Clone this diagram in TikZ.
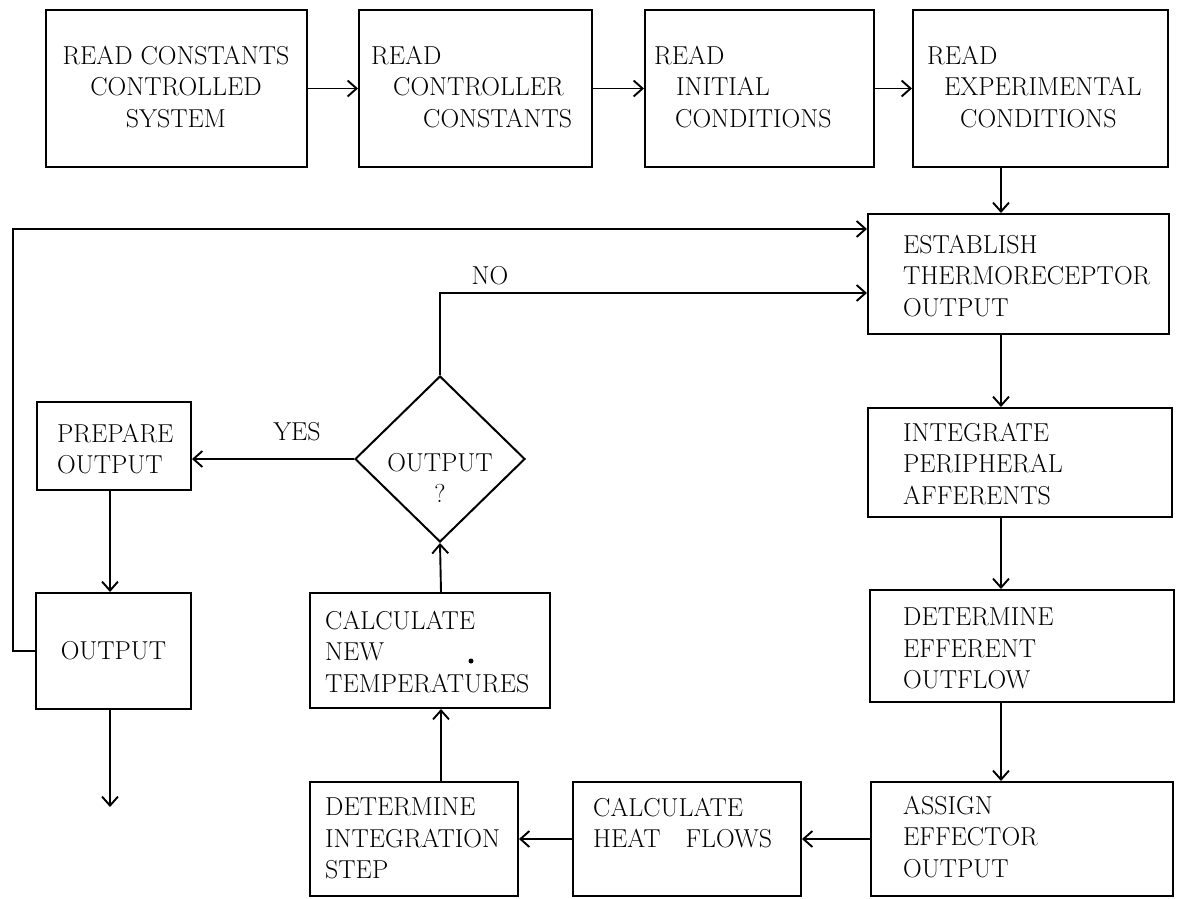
\documentclass[tikz,border=0pt]{standalone}
\usetikzlibrary{arrows.meta,shapes.geometric}
\begin{document}
\begin{tikzpicture}[x=1bp,y=-1bp,
  box/.style={draw, line width=2bp, rectangle, inner sep=0pt},
  txt/.style={font=\fontsize{26}{31.5}\selectfont, inner sep=0pt, align=left, anchor=north west},
  ctxt/.style={font=\fontsize{26}{31.5}\selectfont, inner sep=0pt, align=center, anchor=north},
  lbl/.style={font=\fontsize{26}{31.5}\selectfont, inner sep=0pt},
  arr/.style={line width=1.9bp, -{Straight Barb[length=9bp,width=16bp,line width=1.9bp]}},
  ln/.style={line width=1.9bp}]
\useasboundingbox (0,0) rectangle (1178,899);

% boxes
\node[box, minimum width=261bp, minimum height=157bp] (b1) at (176.5,88.5) {};
\node[box, minimum width=233bp, minimum height=157bp] (b2) at (475.5,88.5) {};
\node[box, minimum width=229bp, minimum height=157bp] (b3) at (759.5,88.5) {};
\node[box, minimum width=255bp, minimum height=157bp] (b4) at (1040.5,88.5) {};
\node[box, minimum width=301bp, minimum height=120bp] (est) at (1018.5,274) {};
\node[box, minimum width=304bp, minimum height=109bp] (integ) at (1020,462.5) {};
\node[box, minimum width=304bp, minimum height=112bp] (eff) at (1022,646) {};
\node[box, minimum width=302bp, minimum height=114bp] (assign) at (1022,839) {};
\node[box, minimum width=228bp, minimum height=114bp] (heat) at (687,839) {};
\node[box, minimum width=208bp, minimum height=114bp] (stp) at (414,839) {};
\node[box, minimum width=240bp, minimum height=115bp] (newt) at (430,650.5) {};
\node[box, minimum width=155bp, minimum height=116bp, font=\fontsize{26}{31.5}\selectfont] (out) at (113.5,651) {OUTPUT};
\node[box, minimum width=154bp, minimum height=88bp] (prep) at (114,446) {};
\node[draw, line width=2bp, diamond, inner sep=0pt, minimum width=170bp, minimum height=166bp] (dia) at (440,459) {};

% texts
\node[ctxt] (t1) at (176,46) {READ CONSTANTS\\CONTROLLED\\SYSTEM};
\node[txt] (t2) at (371,46) {READ\\\hspace*{22bp}CONTROLLER\\\hspace*{52bp}CONSTANTS};
\node[txt] (t3) at (654,46) {READ\\\hspace*{22bp}INITIAL\\\hspace*{21bp}CONDITIONS};
\node[txt] (t4) at (927,46) {READ\\\hspace*{17bp}EXPERIMENTAL\\\hspace*{33bp}CONDITIONS};
\node[txt] (test) at (903,235) {ESTABLISH\\THERMORECEPTOR\\OUTPUT};
\node[txt] (tinteg) at (903,423) {INTEGRATE\\PERIPHERAL\\AFFERENTS};
\node[txt] (teff) at (903,608) {DETERMINE\\EFFERENT\\OUTFLOW};
\node[txt] (tassign) at (903,796) {ASSIGN\\EFFECTOR\\OUTPUT};
\node[txt] (theat) at (593,798) {CALCULATE\\HEAT\hspace{25bp}FLOWS};
\node[txt] (tstp) at (325,798) {DETERMINE\\INTEGRATION\\STEP};
\node[txt] (tnewt) at (325,611) {CALCULATE\\NEW\\TEMPERATURES};
\node[txt] (tprep) at (57,424) {PREPARE\\OUTPUT};
\node[ctxt] (tdia) at (440,453) {OUTPUT\\?};
\node[lbl] (yes) at (297,432) {YES};
\node[lbl] (no) at (490,276) {NO};
\fill (471,661) circle (2.5bp);

% guide coordinates
\coordinate (cr) at (1001,0);
\coordinate (cm) at (441,0);
\coordinate (cl) at (110,0);
\coordinate (cno) at (0,293);
\coordinate (lp) at (13,229);
\coordinate (outend) at (110,807);

% connectors
\draw[arr] (b1.east) -- (b2.west);
\draw[arr] (b2.east) -- (b3.west);
\draw[arr] (b3.east) -- (b4.west);
\draw[arr] (b4.south -| cr) -- (est.north -| cr);
\draw[arr] (est.south -| cr) -- (integ.north -| cr);
\draw[arr] (integ.south -| cr) -- (eff.north -| cr);
\draw[arr] (eff.south -| cr) -- (assign.north -| cr);
\draw[arr] (assign.west) -- (heat.east);
\draw[arr] (heat.west) -- (stp.east);
\draw[arr] (stp.north -| cm) -- (newt.south -| cm);
\draw[arr] (newt.north -| cm) -- (dia.south);
\draw[arr] (dia.west) -- (dia.west -| prep.east);
\draw[arr] (dia.north) |- (est.west |- cno);
\draw[arr] (prep.south -| cl) -- (out.north -| cl);
\draw[arr] (out.south -| cl) -- (outend);
\draw[arr] (out.west) -| (lp) -- (est.west |- lp);
\end{tikzpicture}
\end{document}
